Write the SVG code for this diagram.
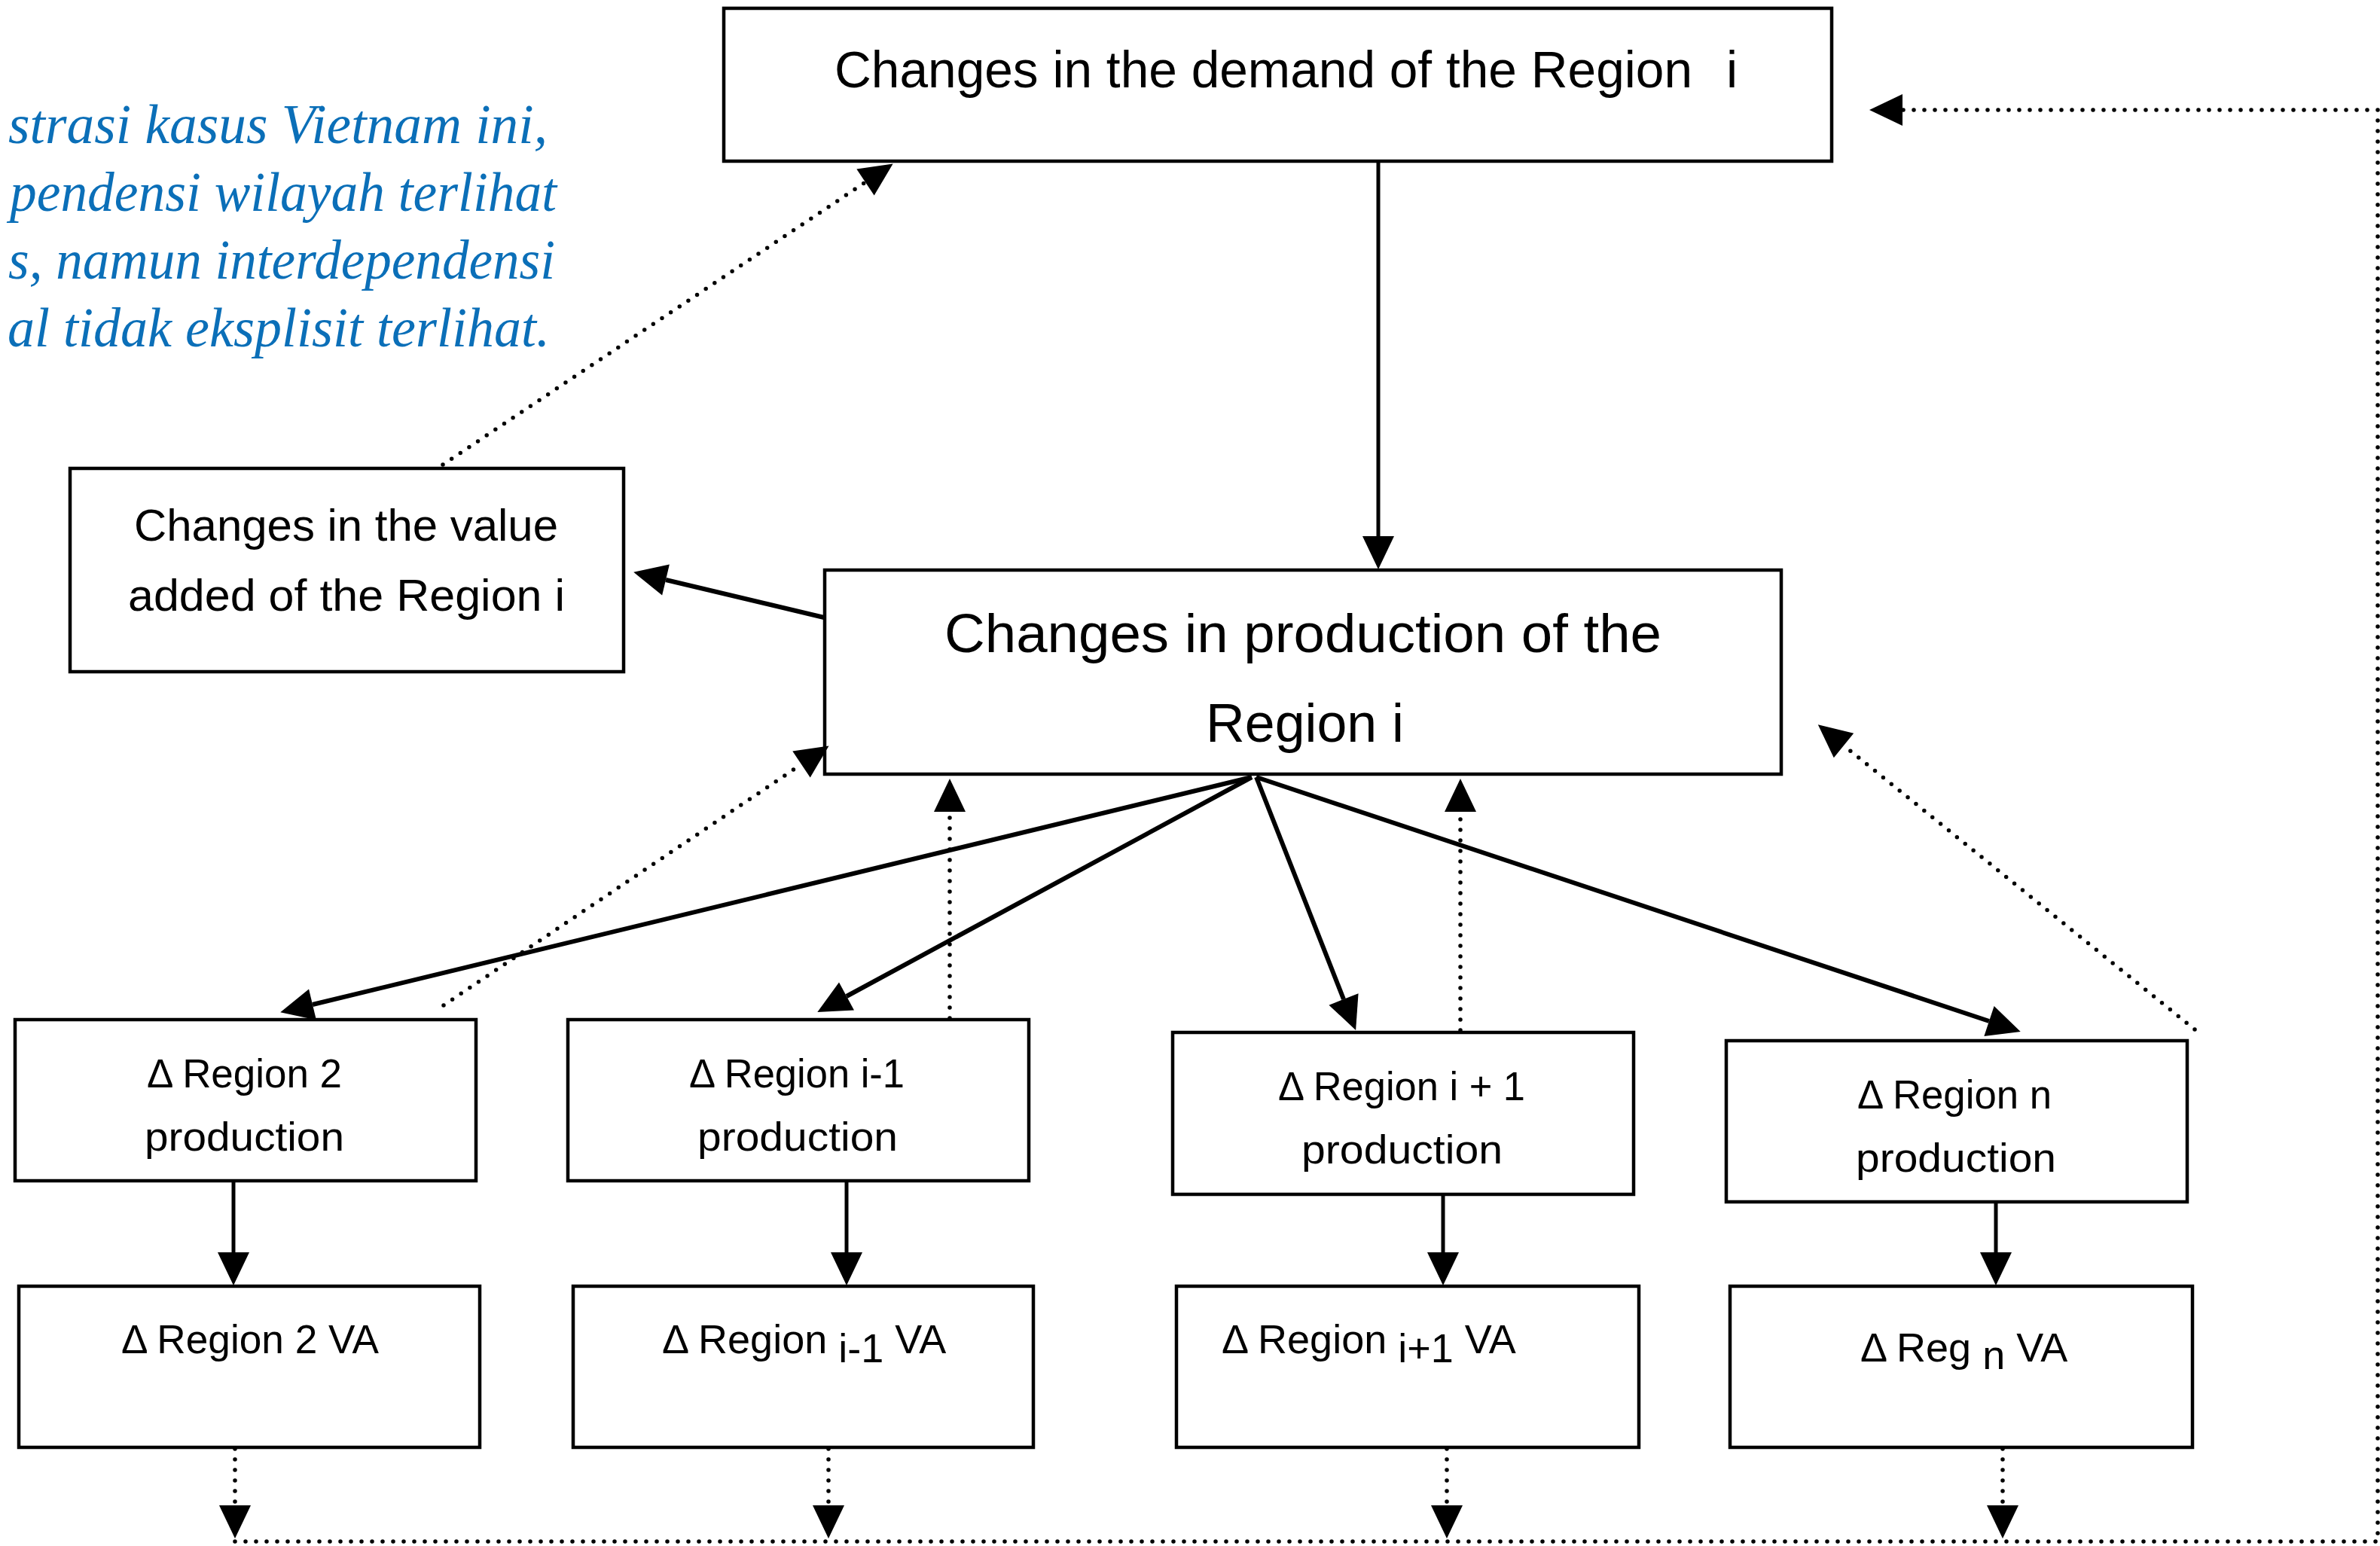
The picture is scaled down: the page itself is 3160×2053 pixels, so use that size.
<svg xmlns="http://www.w3.org/2000/svg" width="3160" height="2053" viewBox="0 0 3160 2053">
<style>
.box{fill:#fff;stroke:#000;stroke-width:4.5}
.t{font-family:'Liberation Sans',Arial,sans-serif;fill:#000}
.big{font-size:68px}
.mid{font-size:60px}
.prod{font-size:72px}
.sm{font-size:54px}
.solid{stroke:#000;fill:none;stroke-width:5}
.thick{stroke-width:6}
.dot{stroke:#000;stroke-width:5.5;stroke-linecap:round;stroke-dasharray:0 14;fill:none}
.note{font-family:'Liberation Serif','Times New Roman',serif;font-style:italic;fill:#0b6fb8;font-size:74px;text-anchor:end}
</style>
<defs>
<marker id="ah" markerUnits="userSpaceOnUse" markerWidth="44" markerHeight="42" refX="0" refY="21" orient="auto" overflow="visible">
<path d="M0,0 L44,21 L0,42 Z" fill="#000"/>
</marker>
</defs>
<rect x="0" y="0" width="3160" height="2053" fill="#fff"/>

<g id="note">
<text class="note" x="727" y="190" textLength="716" lengthAdjust="spacingAndGlyphs">strasi kasus Vietnam ini,</text>
<text class="note" x="739" y="280" textLength="726" lengthAdjust="spacingAndGlyphs">pendensi wilayah terlihat</text>
<text class="note" x="737" y="370" textLength="726" lengthAdjust="spacingAndGlyphs">s, namun interdependensi</text>
<text class="note" x="730" y="460" textLength="720" lengthAdjust="spacingAndGlyphs">al tidak eksplisit terlihat.</text>
</g>

<g id="demand">
<rect class="box" x="961" y="11" width="1471" height="203"/>
<text class="t big" x="1108" y="116" textLength="1139" lengthAdjust="spacingAndGlyphs">Changes in the demand of the Region</text>
<text class="t big" x="2292" y="116">i</text>
</g>

<g id="value-added">
<rect class="box" x="93" y="622" width="735" height="270"/>
<text class="t mid" x="178" y="718" textLength="563" lengthAdjust="spacingAndGlyphs">Changes in the value</text>
<text class="t mid" x="170" y="811" textLength="580" lengthAdjust="spacingAndGlyphs">added of the Region i</text>
</g>

<g id="production">
<rect class="box" x="1095" y="757" width="1270" height="271"/>
<text class="t prod" x="1254" y="866" textLength="952" lengthAdjust="spacingAndGlyphs">Changes in production of the</text>
<text class="t prod" x="1601" y="985" textLength="263" lengthAdjust="spacingAndGlyphs">Region i</text>
</g>

<g id="reg2-prod">
<rect class="box" x="20" y="1354" width="612" height="214"/>
<text class="t sm" x="195" y="1444" textLength="259" lengthAdjust="spacingAndGlyphs">Δ Region 2</text>
<text class="t sm" x="192" y="1528" textLength="265" lengthAdjust="spacingAndGlyphs">production</text>
</g>

<g id="regim1-prod">
<rect class="box" x="754" y="1354" width="612" height="214"/>
<text class="t sm" x="915" y="1444" textLength="286" lengthAdjust="spacingAndGlyphs">Δ Region i-1</text>
<text class="t sm" x="926" y="1528" textLength="266" lengthAdjust="spacingAndGlyphs">production</text>
</g>

<g id="regip1-prod">
<rect class="box" x="1557" y="1371" width="612" height="215"/>
<text class="t sm" x="1697" y="1461" textLength="328" lengthAdjust="spacingAndGlyphs">Δ Region i + 1</text>
<text class="t sm" x="1728" y="1545" textLength="267" lengthAdjust="spacingAndGlyphs">production</text>
</g>

<g id="regn-prod">
<rect class="box" x="2292" y="1382" width="612" height="214"/>
<text class="t sm" x="2466" y="1472" textLength="258" lengthAdjust="spacingAndGlyphs">Δ Region n</text>
<text class="t sm" x="2464" y="1556" textLength="266" lengthAdjust="spacingAndGlyphs">production</text>
</g>

<g id="reg2-va">
<rect class="box" x="25" y="1708" width="612" height="214"/>
<text class="t sm" x="161" y="1797" textLength="342" lengthAdjust="spacingAndGlyphs">Δ Region 2 VA</text>
</g>

<g id="regim1-va">
<rect class="box" x="761" y="1708" width="611" height="214"/>
<text class="t sm" x="879" y="1797">Δ Region <tspan dy="12">i-1</tspan><tspan dy="-12"> VA</tspan></text>
</g>

<g id="regip1-va">
<rect class="box" x="1562" y="1708" width="614" height="214"/>
<text class="t sm" x="1622" y="1797">Δ Region <tspan dy="12">i+1</tspan><tspan dy="-12"> VA</tspan></text>
</g>

<g id="regn-va">
<rect class="box" x="2297" y="1708" width="614" height="214"/>
<text class="t sm" x="2470" y="1808">Δ Reg <tspan dy="10">n</tspan><tspan dy="-10"> VA</tspan></text>
</g>

<g id="connectors">
<line class="solid" x1="1830" y1="214" x2="1830" y2="712" marker-end="url(#ah)"/>
<line class="solid thick" x1="1094" y1="820" x2="884" y2="770" marker-end="url(#ah)"/>
<line class="solid thick" x1="1662" y1="1032" x2="415" y2="1334" marker-end="url(#ah)"/>
<line class="solid thick" x1="1662" y1="1032" x2="1124" y2="1323" marker-end="url(#ah)"/>
<line class="solid thick" x1="1668" y1="1032" x2="1784" y2="1327" marker-end="url(#ah)"/>
<line class="solid thick" x1="1668" y1="1032" x2="2641" y2="1356" marker-end="url(#ah)"/>

<line class="solid" x1="310" y1="1568" x2="310" y2="1663" marker-end="url(#ah)"/>
<line class="solid" x1="1124" y1="1568" x2="1124" y2="1663" marker-end="url(#ah)"/>
<line class="solid" x1="1916" y1="1586" x2="1916" y2="1663" marker-end="url(#ah)"/>
<line class="solid" x1="2650" y1="1596" x2="2650" y2="1663" marker-end="url(#ah)"/>

<line class="dot" x1="312" y1="1924" x2="312" y2="1999" marker-end="url(#ah)"/>
<line class="dot" x1="1100" y1="1924" x2="1100" y2="1999" marker-end="url(#ah)"/>
<line class="dot" x1="1921" y1="1924" x2="1921" y2="1999" marker-end="url(#ah)"/>
<line class="dot" x1="2659" y1="1924" x2="2659" y2="1999" marker-end="url(#ah)"/>
<path class="dot" d="M312,2047 H3157 V146 H2526" marker-end="url(#ah)"/>

<line class="dot" x1="588" y1="617" x2="1149" y2="242" marker-end="url(#ah)"/>
<line class="dot" x1="589" y1="1335" x2="1064" y2="1015" marker-end="url(#ah)"/>
<line class="dot" x1="1261" y1="1352" x2="1261" y2="1078" marker-end="url(#ah)"/>
<line class="dot" x1="1939" y1="1368" x2="1939" y2="1078" marker-end="url(#ah)"/>
<line class="dot" x1="2914" y1="1367" x2="2448" y2="990" marker-end="url(#ah)"/>
</g>
</svg>
